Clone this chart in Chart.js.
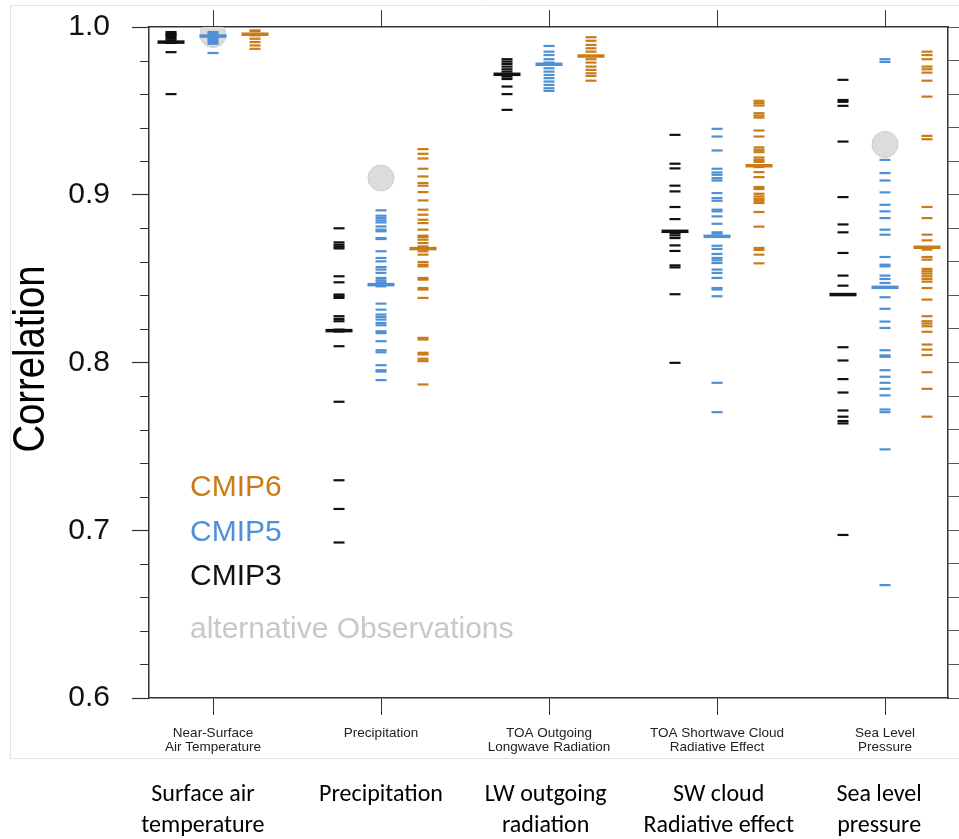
<!DOCTYPE html>
<html>
<head>
<meta charset="utf-8">
<script src="https://cdn.jsdelivr.net/npm/chart.js@4.4.1/dist/chart.umd.min.js"></script>
<style>
  html, body { margin: 0; padding: 0; background: #fff; }
  #wrap { width: 959px; height: 839px; position: relative; }
</style>
</head>
<body>
<div id="wrap"><canvas id="c" width="959" height="839"></canvas></div>
<script>
// categories (original panel labels + the added plain-language labels)
const CATEGORIES = [
    ['Near-Surface', 'Air Temperature'], ['Precipitation'], ['TOA Outgoing', 'Longwave Radiation'],
    ['TOA Shortwave Cloud', 'Radiative Effect'], ['Sea Level', 'Pressure'],
];
const PLAIN_LABELS = [
    ['Surface air', 'temperature'], ['Precipitation'], ['LW outgoing', 'radiation'],
    ['SW cloud', 'Radiative effect'], ['Sea level', 'pressure'],
];
const Y_TICKS = [0.6, 0.7, 0.8, 0.9, 1.0];

// per-model correlations, one list per category (SAT, PR, LW, SW, SLP)
const CMIP3 = [
    [0.997, 0.996, 0.9955, 0.995, 0.994, 0.993, 0.992, 0.9905, 0.985, 0.960],
    [0.880, 0.8716, 0.8702, 0.869, 0.868, 0.8514, 0.8478, 0.8405, 0.8395, 0.8385, 0.8276, 0.826, 0.8246, 0.8196, 0.8185, 0.8097, 0.7766, 0.7298, 0.7127, 0.6927],
    [0.9808, 0.9794, 0.978, 0.9764, 0.9748, 0.9734, 0.9704, 0.969, 0.9645, 0.960, 0.9506],
    [0.9357, 0.9185, 0.9157, 0.9054, 0.902, 0.8927, 0.8855, 0.8772, 0.8758, 0.8742, 0.8698, 0.8665, 0.8579, 0.8567, 0.8407, 0.7998],
    [0.9685, 0.9565, 0.9554, 0.953, 0.9317, 0.8986, 0.8823, 0.8776, 0.8653, 0.8518, 0.8458, 0.8091, 0.8012, 0.7901, 0.7821, 0.7714, 0.7677, 0.7651, 0.7637, 0.6972],
];
const CMIP5 = [
    [0.997, 0.996, 0.995, 0.994, 0.993, 0.992, 0.991, 0.990, 0.9845],
    [0.8907, 0.8875, 0.8861, 0.8847, 0.8835, 0.8811, 0.8792, 0.8782, 0.8742, 0.8736, 0.8663, 0.8623, 0.8603, 0.8569, 0.8554, 0.8534, 0.8504, 0.849, 0.8478, 0.8454, 0.8351, 0.8315, 0.8286, 0.8272, 0.8256, 0.8236, 0.8222, 0.8186, 0.8175, 0.8127, 0.8073, 0.8061, 0.7984, 0.7954, 0.7946, 0.7895],
    [0.9887, 0.9853, 0.9833, 0.9808, 0.9788, 0.9754, 0.9734, 0.9714, 0.9695, 0.9675, 0.9655, 0.9635, 0.9619],
    [0.9393, 0.9347, 0.9264, 0.9155, 0.9133, 0.9119, 0.9099, 0.9085, 0.901, 0.898, 0.8964, 0.8911, 0.8901, 0.8871, 0.8827, 0.8776, 0.8768, 0.8696, 0.8677, 0.8647, 0.8623, 0.8609, 0.8593, 0.8554, 0.8534, 0.8504, 0.8444, 0.8435, 0.8395, 0.7879, 0.7704],
    [0.9808, 0.9792, 0.9208, 0.9129, 0.9085, 0.9014, 0.894, 0.8901, 0.8861, 0.8792, 0.8762, 0.8629, 0.8583, 0.8573, 0.8518, 0.8498, 0.8474, 0.8389, 0.832, 0.8244, 0.8206, 0.8073, 0.8042, 0.8034, 0.7954, 0.7915, 0.7879, 0.7843, 0.7804, 0.772, 0.7704, 0.7482, 0.6673],
];
const CMIP6 = [
    [0.998, 0.9975, 0.995, 0.993, 0.991, 0.989, 0.987],
    [0.9272, 0.9244, 0.9216, 0.9155, 0.9109, 0.907, 0.9054, 0.9016, 0.8966, 0.8911, 0.8881, 0.8851, 0.8831, 0.8792, 0.8756, 0.8748, 0.8732, 0.8712, 0.8692, 0.8663, 0.8643, 0.8599, 0.8583, 0.8573, 0.8504, 0.8494, 0.8444, 0.8435, 0.8385, 0.8147, 0.8137, 0.8058, 0.8048, 0.8022, 0.8008, 0.7869],
    [0.9939, 0.9918, 0.9893, 0.9873, 0.9853, 0.9808, 0.9788, 0.9764, 0.9744, 0.9724, 0.9708, 0.968],
    [0.956, 0.9546, 0.9532, 0.9486, 0.9472, 0.946, 0.9383, 0.9347, 0.9282, 0.9268, 0.9254, 0.9222, 0.9208, 0.9196, 0.9165, 0.9135, 0.9105, 0.9046, 0.9034, 0.9006, 0.899, 0.8976, 0.8964, 0.8951, 0.8897, 0.881, 0.8683, 0.8671, 0.8643, 0.8591],
    [0.9853, 0.9833, 0.9808, 0.9764, 0.9748, 0.9728, 0.968, 0.9585, 0.9351, 0.9331, 0.8927, 0.8861, 0.8762, 0.8728, 0.8673, 0.8629, 0.8613, 0.8558, 0.8544, 0.853, 0.8514, 0.8498, 0.8482, 0.8444, 0.8375, 0.8276, 0.8246, 0.8232, 0.8216, 0.8183, 0.8107, 0.8077, 0.8044, 0.7942, 0.7843, 0.7677],
];
// multi-model means
const CMIP3_MEAN = [0.991, 0.819, 0.9718, 0.8782, 0.8405];
const CMIP5_MEAN = [0.9946, 0.8464, 0.9778, 0.8752, 0.8448];
const CMIP6_MEAN = [0.9957, 0.8679, 0.9827, 0.9173, 0.8687];
// alternative observations (drawn in the CMIP5 column)
const OBS = [0.9955, 0.910, null, null, 0.930];

const COL = { c3: '#111111', c5: '#4d90d6', c6: '#c97b16', obs: '#dcdcdc' };
const GROUPS = [
    { label: 'CMIP3', vals: CMIP3, mean: CMIP3_MEAN, off: -0.25, color: COL.c3 },
    { label: 'CMIP5', vals: CMIP5, mean: CMIP5_MEAN, off: 0, color: COL.c5 },
    { label: 'CMIP6', vals: CMIP6, mean: CMIP6_MEAN, off: 0.25, color: COL.c6 },
];
const X_MIN = -0.381, X_MAX = 4.375;
const CAT_POS = CATEGORIES.map((_, i) => i);
// the added labels under the figure sit slightly off the tick centres
const PLAIN_SHIFT = [-0.06, 0, -0.02, 0.01, -0.035];

const datasets = [{
    label: 'obs', order: 10,
    data: OBS.map((v, i) => (v == null ? null : { x: i, y: v })).filter(Boolean),
    pointStyle: 'circle', pointRadius: 13, backgroundColor: COL.obs, borderColor: '#cdcdcd', borderWidth: 1,
}];
GROUPS.forEach((g) => {
    datasets.push({
        label: g.label, order: 5,
        data: g.vals.flatMap((vals, i) => vals.map((v) => ({ x: i + g.off, y: v }))),
        pointStyle: 'line', pointRadius: 5.5, borderWidth: 2.2, borderColor: g.color, backgroundColor: g.color,
    });
    datasets.push({
        label: g.label + ' mean', order: 1,
        data: g.mean.map((v, i) => ({ x: i + g.off, y: v })),
        pointStyle: 'line', pointRadius: 13.5, borderWidth: 3.5, borderColor: g.color, backgroundColor: g.color,
    });
});

const catTicks = (scale) => { scale.ticks = CAT_POS.map((v) => ({ value: v })); };
const noSidePad = (s) => { s.paddingLeft = 0; s.paddingRight = 0; };
const noEndPad = (s) => { s.paddingTop = 0; s.paddingBottom = 0; };
const AX = '#333';

// minor ticks on the left axis, rotated axis title, inside legend and the faint frame of the original figure
const decor = {
    id: 'decor',
    beforeDraw(chart) {
        const { ctx } = chart;
        ctx.save();
        ctx.strokeStyle = '#e4e4e4';
        ctx.lineWidth = 1;
        ctx.beginPath();
        ctx.moveTo(10.5, 5.5); ctx.lineTo(959, 5.5);
        ctx.moveTo(10.5, 5.5); ctx.lineTo(10.5, 758.5);
        ctx.moveTo(10.5, 758.5); ctx.lineTo(959, 758.5);
        ctx.stroke();
        ctx.restore();
    },
    afterDraw(chart) {
        const { ctx, chartArea: a } = chart;
        const y = chart.scales.y;
        ctx.save();
        ctx.strokeStyle = AX;
        ctx.lineWidth = 1;
        ctx.beginPath();
        for (let v = 0.62; v < 1.0; v += 0.02) {
            if (Math.abs(v * 10 - Math.round(v * 10)) < 1e-6) continue;
            const py = Math.round(y.getPixelForValue(v)) + 0.5;
            ctx.moveTo(a.left - 9, py); ctx.lineTo(a.left, py);
        }
        ctx.stroke();

        // condensed axis title
        ctx.save();
        ctx.translate(44, 359);
        ctx.rotate(-Math.PI / 2);
        ctx.scale(0.85, 1);
        ctx.font = '45px "Liberation Sans", Arial, sans-serif';
        ctx.fillStyle = '#000';
        ctx.textAlign = 'center';
        ctx.textBaseline = 'alphabetic';
        ctx.fillText('Correlation', 0, 0);
        ctx.restore();

        ctx.font = '30px "Liberation Sans", Arial, sans-serif';
        ctx.textBaseline = 'middle';
        const lx = a.left + 41;
        [['CMIP6', COL.c6, 488], ['CMIP5', COL.c5, 533], ['CMIP3', COL.c3, 577], ['alternative Observations', '#c8c8c8', 630]]
            .forEach(([t, c, py]) => { ctx.fillStyle = c; ctx.fillText(t, lx, py); });
        ctx.restore();
    },
};

new Chart(document.getElementById('c'), {
    type: 'scatter',
    data: { datasets },
    plugins: [decor],
    options: {
        responsive: false, animation: false, devicePixelRatio: 1,
        layout: { autoPadding: false, padding: { left: 0, right: 0, top: 10, bottom: 0 } },
        plugins: { legend: { display: false }, tooltip: { enabled: false } },
        scales: {
            x: {
                type: 'linear', position: 'bottom', min: X_MIN, max: X_MAX, weight: 0,
                afterBuildTicks: catTicks,
                afterFit: (s) => { s.height = 60; noSidePad(s); },
                grid: { drawOnChartArea: false, tickLength: 17, tickColor: AX, tickWidth: 1 },
                border: { color: AX, width: 1.5 },
                ticks: {
                    autoSkip: false, maxRotation: 0, padding: 11, color: '#222',
                    font: { family: '"Liberation Sans", Arial, sans-serif', size: 13.5, lineHeight: 1.05 },
                    callback: (v, i) => CATEGORIES[i],
                },
            },
            x2: {
                type: 'linear', position: 'bottom', min: X_MIN, max: X_MAX, weight: 1,
                afterBuildTicks: (s) => { s.ticks = CAT_POS.map((v, i) => ({ value: v + PLAIN_SHIFT[i] })); },
                afterFit: (s) => { s.height = 81; noSidePad(s); },
                grid: { display: false, drawTicks: false },
                border: { display: false },
                ticks: {
                    autoSkip: false, maxRotation: 0, padding: 21, color: '#000',
                    font: { family: 'Carlito, Lato, "Open Sans", sans-serif', size: 24, lineHeight: 1.3 },
                    callback: (v, i) => PLAIN_LABELS[i],
                },
            },
            xTop: {
                type: 'linear', position: 'top', min: X_MIN, max: X_MAX,
                afterBuildTicks: catTicks,
                afterFit: (s) => { s.height = 17; noSidePad(s); },
                grid: { drawOnChartArea: false, tickLength: 17, tickColor: AX },
                border: { color: AX, width: 1.5 },
                ticks: { display: false },
            },
            y: {
                type: 'linear', position: 'left', min: 0.6, max: 1.0,
                afterBuildTicks: (s) => { s.ticks = Y_TICKS.map((v) => ({ value: v })); },
                afterFit: (s) => { s.width = 149; noEndPad(s); },
                grid: { drawOnChartArea: false, tickLength: 17, tickColor: AX, tickWidth: 1.2 },
                border: { color: AX, width: 1.5 },
                ticks: {
                    padding: 22, color: '#111',
                    font: { family: '"Liberation Sans", Arial, sans-serif', size: 30 },
                    callback: (v) => v.toFixed(1),
                },
            },
            yR: {
                type: 'linear', position: 'right', min: 0.6, max: 1.0,
                afterFit: (s) => { s.width = 11; noEndPad(s); },
                ticks: { display: false, stepSize: 0.02 },
                grid: { drawOnChartArea: false, tickLength: 11, tickColor: '#555' },
                border: { color: AX, width: 1.5 },
            },
        },
    },
});
</script>
</body>
</html>
